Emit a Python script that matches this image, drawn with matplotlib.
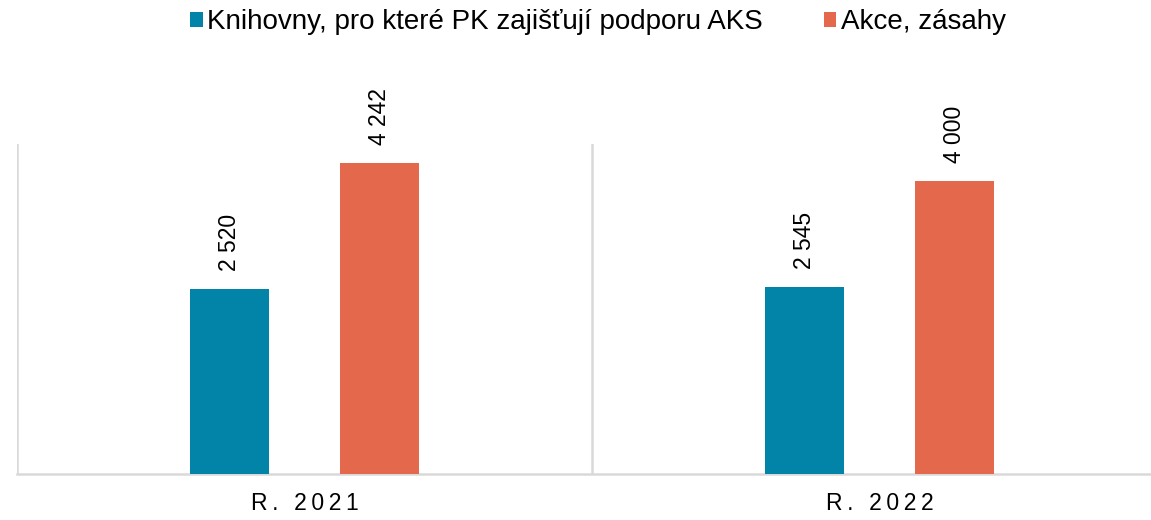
import matplotlib.pyplot as plt
import numpy as np

plt.rcParams['font.family'] = ['Liberation Sans', 'DejaVu Sans']

years = ['R. 2021', 'R. 2022']
knihovny = [2520, 2545]
akce = [4242, 4000]
series_names = ['Knihovny, pro které PK zajišťují podporu AKS', 'Akce, zásahy']
colors = ['#0283A8', '#E4684C']
grid_color = '#D9D9D9'


def spaced(s):
    # widen the letter spacing of the category labels
    return '\u2009'.join(s)


fig = plt.figure(figsize=(11.51, 5.2), dpi=100)
# plot area runs a little past the right edge of the figure
ax = fig.add_axes([17 / 1151, 46 / 520, 1150 / 1151, 330 / 520])

x = np.arange(len(years))
offset = 0.13
width = 0.137

bars = []
for vals, dx, col, name in zip([knihovny, akce], [-offset, offset], colors, series_names):
    b = ax.bar(x + dx, vals, width, color=col, label=name, zorder=3)
    bars.append(b)
    for rect, v in zip(b, vals):
        ax.annotate(f'{v:,}'.replace(',', ' '),
                    (rect.get_x() + rect.get_width() / 2, v),
                    xytext=(0, 13), textcoords='offset points',
                    rotation=90, ha='center', va='bottom',
                    fontsize=16.5, color='black')

ax.set_xlim(-0.5, len(years) - 0.5)
ax.set_ylim(0, 4500)

# category separators
for sep in np.arange(-0.5, len(years), 1.0):
    ax.axvline(sep, color=grid_color, lw=1.8, zorder=1)

for side in ['top', 'right', 'left']:
    ax.spines[side].set_visible(False)
ax.spines['bottom'].set_color(grid_color)
ax.spines['bottom'].set_linewidth(1.8)

ax.set_yticks([])
ax.set_xticks(x)
ax.set_xticklabels([spaced(y) for y in years], fontsize=16.5)
ax.tick_params(axis='x', length=0, pad=13)

fig.legend(handles=bars, labels=series_names, loc='center',
           bbox_to_anchor=(598 / 1151, 1 - 22 / 520), ncol=2,
           frameon=False, fontsize=20, handlelength=0.45, handleheight=0.45,
           handletextpad=0.15, columnspacing=2.2, borderpad=0)

fig.savefig('out.png', dpi=100)
